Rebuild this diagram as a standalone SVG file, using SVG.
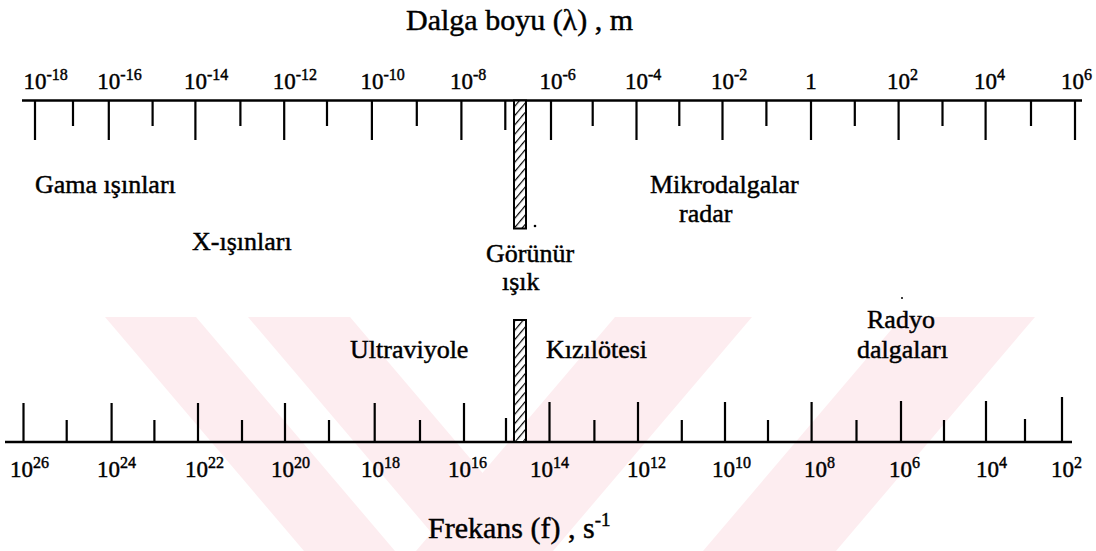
<svg xmlns="http://www.w3.org/2000/svg" width="1096" height="551" viewBox="0 0 1096 551">
<defs>
<style>
text{font-family:"Liberation Serif","Times New Roman",serif;fill:#000;stroke:#000;stroke-width:0.45}
.num{font-size:23px}
.sup{font-size:16px}
.lbl{font-size:26px}
.ttl{font-size:30px}
.axis{stroke:#000;stroke-width:2.6;fill:none}
.tick{stroke:#000;stroke-width:2.2;fill:none}
.wm{fill:#fdedf0;stroke:none}
.bar{fill:url(#hatch);stroke:#000;stroke-width:2}
</style>
<pattern id="hatch" patternUnits="userSpaceOnUse" width="6" height="6" patternTransform="rotate(40)">
<rect width="6" height="6" fill="#fff"/>
<line x1="0" y1="0" x2="0" y2="6" stroke="#000" stroke-width="2.4"/>
</pattern>
</defs>
<rect width="1096" height="551" fill="#fff"/>
<g id="watermark">
<polygon class="wm" points="105,317 196,317 395,551 304,551"/>
<polygon class="wm" points="248,317 350,317 549,551 447,551"/>
<polygon class="wm" points="615,317 752,317 553,551 416,551"/>
<polygon class="wm" points="902,317 1035,317 836,551 703,551"/>
</g>
<g id="connectors">
<g id="top-axis">
<line class="axis" x1="22" y1="100.5" x2="1082" y2="100.5"/>
<path class="tick" d="M35 100V140M108.8 100V140M195.4 100V140M284.2 100V140M371.9 100V140M461.4 100V140M551 100V140M636.5 100V140M722.5 100V140M811 100V140M898.6 100V140M985.6 100V140M1075 100V140"/>
<path class="tick" d="M73 100V126M152.6 100V126M240.4 100V126M327 100V126M416.8 100V126M505.3 100V130M592.7 100V126M679.3 100V126M766.4 100V126M854.8 100V126M942.5 100V126M1031 100V126"/>
</g>
<g id="bottom-axis">
<line class="axis" x1="5" y1="442" x2="1072" y2="442"/>
<path class="tick" d="M23.5 442V403M111.6 442V403M198 442V403M285 442V403M374.7 442V403M464 442V403M549.5 442V402M638 442V402M725 442V402M811.6 442V402M901 442V401M986 442V401M1062 442V397"/>
<path class="tick" d="M66.7 442V420M154.4 442V420M242 442V420M329 442V420M420 442V420M506 442V418M594.4 442V420M681.8 442V420M768 442V420M856.5 442V420M944 442V420M1025 442V419"/>
</g>
</g>
<g id="visible-band">
<rect class="bar" x="514" y="100.5" width="12" height="128"/>
<rect class="bar" x="514" y="320" width="12" height="122"/>
<circle cx="535" cy="226" r="1.3" fill="#000"/>
</g>
<g id="top-labels" class="num">
<text x="23.5" y="89">10<tspan class="sup" dy="-9">-18</tspan></text>
<text x="97.3" y="89">10<tspan class="sup" dy="-9">-16</tspan></text>
<text x="183.9" y="89">10<tspan class="sup" dy="-9">-14</tspan></text>
<text x="272.7" y="89">10<tspan class="sup" dy="-9">-12</tspan></text>
<text x="360.4" y="89">10<tspan class="sup" dy="-9">-10</tspan></text>
<text x="449.9" y="89">10<tspan class="sup" dy="-9">-8</tspan></text>
<text x="539.5" y="89">10<tspan class="sup" dy="-9">-6</tspan></text>
<text x="625" y="89">10<tspan class="sup" dy="-9">-4</tspan></text>
<text x="711" y="89">10<tspan class="sup" dy="-9">-2</tspan></text>
<text x="805.3" y="89">1</text>
<text x="887.1" y="89">10<tspan class="sup" dy="-9">2</tspan></text>
<text x="974.1" y="89">10<tspan class="sup" dy="-9">4</tspan></text>
<text x="1061" y="89">10<tspan class="sup" dy="-9">6</tspan></text>
</g>
<g id="bottom-labels" class="num">
<text x="10" y="477">10<tspan class="sup" dy="-9">26</tspan></text>
<text x="97" y="477">10<tspan class="sup" dy="-9">24</tspan></text>
<text x="185" y="477">10<tspan class="sup" dy="-9">22</tspan></text>
<text x="271" y="477">10<tspan class="sup" dy="-9">20</tspan></text>
<text x="361" y="477">10<tspan class="sup" dy="-9">18</tspan></text>
<text x="448" y="477">10<tspan class="sup" dy="-9">16</tspan></text>
<text x="530" y="477">10<tspan class="sup" dy="-9">14</tspan></text>
<text x="627" y="477">10<tspan class="sup" dy="-9">12</tspan></text>
<text x="712" y="477">10<tspan class="sup" dy="-9">10</tspan></text>
<text x="804" y="477">10<tspan class="sup" dy="-9">8</tspan></text>
<text x="889" y="477">10<tspan class="sup" dy="-9">6</tspan></text>
<text x="976" y="477">10<tspan class="sup" dy="-9">4</tspan></text>
<text x="1051" y="477">10<tspan class="sup" dy="-9">2</tspan></text>
</g>
<g id="titles">
<text id="wavelength-title" class="ttl" x="406" y="30">Dalga boyu (λ) , m</text>
<text id="frequency-title" class="ttl" x="428" y="538">Frekans (f) , s<tspan class="sup" dy="-12" style="font-size:19px">-1</tspan></text>
</g>
<g id="gamma"><text class="lbl" x="35" y="193">Gama ışınları</text></g>
<g id="xray"><text class="lbl" x="192" y="250">X-ışınları</text></g>
<g id="microwave"><text class="lbl" x="650" y="193">Mikrodalgalar</text><text class="lbl" x="679" y="222">radar</text></g>
<g id="visible"><text class="lbl" x="486" y="262">Görünür</text><text class="lbl" x="502" y="290">ışık</text></g>
<g id="uv"><text class="lbl" x="350" y="358">Ultraviyole</text></g>
<g id="ir"><text class="lbl" x="546" y="358">Kızılötesi</text></g>
<g id="radio"><text class="lbl" x="867" y="328">Radyo</text><text class="lbl" x="857" y="358">dalgaları</text></g>
<circle cx="902" cy="298" r="1" fill="#000"/>
</svg>
